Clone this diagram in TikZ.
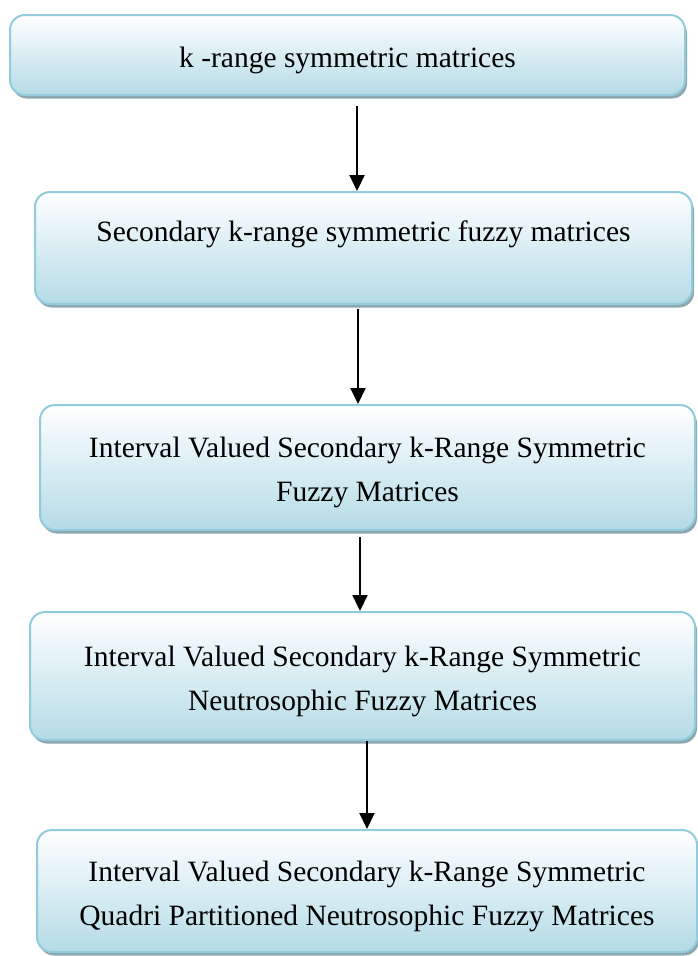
\documentclass[tikz,border=0pt]{standalone}
\usepackage{fontspec}
\setmainfont{Liberation Serif}
\usetikzlibrary{arrows.meta,shadows}
\definecolor{boxline}{HTML}{92CCDC}
\definecolor{boxlow}{HTML}{B4DBE6}
\definecolor{boxshade}{HTML}{8EA7AF}
\tikzset{
  flowbox/.style={rounded corners=15pt, draw=boxline, line width=2pt,
    top color=white, bottom color=boxlow, inner sep=0pt,
    drop shadow={shadow xshift=2pt, shadow yshift=-3.5pt, fill=boxshade, opacity=1}},
  flowtext/.style={align=center, inner sep=0pt,
    font=\fontsize{29.5}{44}\selectfont},
  flowarrow/.style={line width=2pt, -{Triangle[length=16pt,width=15pt]}}
}
\begin{document}
\begin{tikzpicture}[x=1pt,y=-1pt]
  \useasboundingbox (0,0) rectangle (697,956);
  % boxes of the chain, top to bottom
  \node[flowbox, minimum width=675pt, minimum height=80pt] (b1) at (347.5,55) {};
  \node[flowbox, minimum width=657pt, minimum height=112pt] (b2) at (363.5,248) {};
  \node[flowbox, minimum width=655pt, minimum height=125pt] (b3) at (367.5,467.5) {};
  \node[flowbox, minimum width=665pt, minimum height=128pt] (b4) at (362.5,676) {};
  \node[flowbox, minimum width=660pt, minimum height=122pt] (b5) at (367,891) {};
  % their captions
  \node[flowtext] (t1) at ([yshift=-5pt]b1.center) {k -range symmetric matrices};
  \node[flowtext] (t2) at ([yshift=-5pt]b2.center)
    {Secondary k-range symmetric fuzzy matrices\\ \mbox{}};
  \node[flowtext] (t3) at ([yshift=-5pt]b3.center)
    {Interval Valued Secondary k-Range Symmetric\\ Fuzzy Matrices};
  \node[flowtext] (t4) at ([yshift=-5pt]b4.center)
    {Interval Valued Secondary k-Range Symmetric\\ Neutrosophic Fuzzy Matrices};
  \node[flowtext] (t5) at ([yshift=-5pt]b5.center)
    {Interval Valued Secondary k-Range Symmetric\\ Quadri Partitioned Neutrosophic Fuzzy Matrices};
  % arrow columns
  \coordinate (a1) at (357,0);
  \coordinate (a2) at (358,0);
  \coordinate (a3) at (360,0);
  \coordinate (a4) at (367,0);
  \draw[flowarrow] ([yshift=-10pt]b1.south -| a1) -- (b2.north -| a1);
  \draw[flowarrow] ([yshift=-4pt]b2.south -| a2) -- (b3.north -| a2);
  \draw[flowarrow] ([yshift=-6pt]b3.south -| a3) -- (b4.north -| a3);
  \draw[flowarrow] (b4.south -| a4) -- (b5.north -| a4);
\end{tikzpicture}
\end{document}
